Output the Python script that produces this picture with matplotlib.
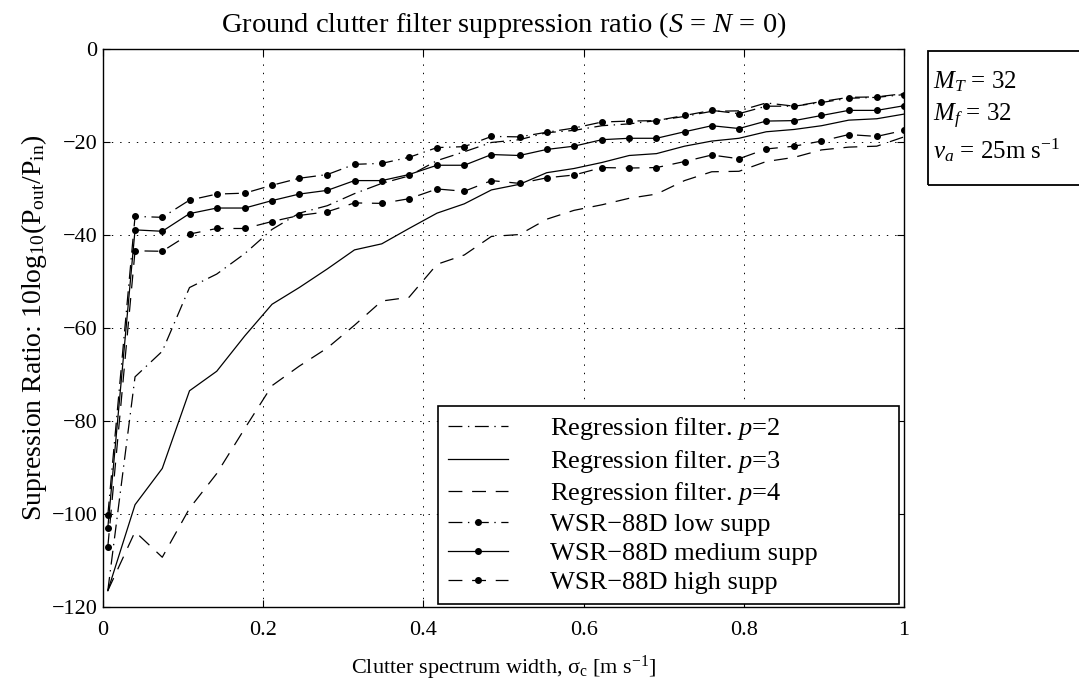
import matplotlib
matplotlib.use("Agg")
import matplotlib.pyplot as plt
from matplotlib.patches import Rectangle

plt.rcParams['font.family'] = ['Liberation Serif', 'DejaVu Serif']
plt.rcParams['mathtext.fontset'] = 'custom'
plt.rcParams['mathtext.rm'] = 'Liberation Serif'
plt.rcParams['mathtext.it'] = 'Liberation Serif:italic'
plt.rcParams['mathtext.bf'] = 'Liberation Serif:bold'
plt.rcParams['lines.scale_dashes'] = False

# clutter spectrum width [m/s]
sigma_c = [0.006, 0.040, 0.074, 0.108, 0.142, 0.177, 0.211, 0.245, 0.280, 0.314,
           0.348, 0.382, 0.417, 0.451, 0.485, 0.520, 0.554, 0.588, 0.623, 0.657,
           0.691, 0.726, 0.760, 0.794, 0.828, 0.863, 0.897, 0.931, 0.966, 1.000]

# regression filters
reg_p2 = [-116.5, -70.5, -65.0, -51.3, -48.4, -44.0, -38.8, -35.3, -33.7, -31.1,
          -28.9, -27.3, -24.0, -22.1, -20.1, -19.5, -18.0, -17.5, -16.5, -16.1,
          -15.4, -14.5, -13.4, -13.3, -11.6, -12.3, -11.3, -10.4, -10.3, -9.6]
reg_p3 = [-116.5, -98.0, -90.2, -73.5, -69.3, -61.7, -54.9, -51.3, -47.3, -43.2,
          -41.9, -38.6, -35.3, -33.3, -30.3, -29.1, -26.6, -25.7, -24.4, -22.9,
          -22.5, -20.9, -19.8, -19.2, -17.8, -17.3, -16.5, -15.3, -15.0, -14.0]
reg_p4 = [-116.5, -103.8, -109.3, -98.8, -91.3, -81.6, -72.4, -68.2, -64.3, -59.4,
          -54.2, -53.4, -46.3, -44.3, -40.3, -39.9, -36.6, -34.7, -33.5, -32.1,
          -31.2, -28.3, -26.4, -26.3, -24.2, -23.3, -21.7, -21.1, -20.9, -18.9]

# WSR-88D filters
wsr_low = [-100.3, -36.0, -36.2, -32.5, -31.2, -31.0, -29.3, -27.8, -27.0, -24.8,
           -24.6, -23.3, -21.2, -21.0, -18.8, -18.9, -17.9, -17.0, -15.7, -15.5,
           -15.4, -14.3, -13.2, -13.9, -12.3, -12.3, -11.5, -10.6, -10.4, -9.8]
wsr_med = [-103.0, -38.9, -39.2, -35.4, -34.2, -34.2, -32.6, -31.2, -30.4, -28.3,
           -28.3, -27.0, -25.0, -25.0, -22.7, -22.9, -21.6, -20.9, -19.5, -19.2,
           -19.2, -17.8, -16.5, -17.1, -15.5, -15.4, -14.3, -13.2, -13.2, -12.2]
wsr_high = [-107.1, -43.4, -43.5, -39.8, -38.6, -38.6, -37.1, -35.8, -35.0, -33.1,
            -33.2, -32.2, -30.1, -30.6, -28.3, -28.9, -27.7, -27.1, -25.5, -25.6,
            -25.5, -24.2, -22.8, -23.6, -21.5, -20.9, -19.8, -18.4, -18.8, -17.5]

labels = ['Regression filter. $p$=2', 'Regression filter. $p$=3',
          'Regression filter. $p$=4', 'WSR\u221288D low supp',
          'WSR\u221288D medium supp', 'WSR\u221288D high supp']

xticks = [0, 0.2, 0.4, 0.6, 0.8, 1]
xticklabels = ['0', '0.2', '0.4', '0.6', '0.8', '1']
yticks = [-120, -100, -80, -60, -40, -20, 0]
yticklabels = ['\u2212120', '\u2212100', '\u221280', '\u221260', '\u221240', '\u221220', '0']

params_text = ['$M_T$ = 32', '$M_f$ = 32', '$v_a$ = 25m s$^{-1}$']

dashdot = (0, (10, 4, 1, 4))
dashed = (0, (10, 7))

fig = plt.figure(figsize=(10.79, 6.89), dpi=100)
ax = fig.add_axes([103 / 1079, 82 / 689, 801 / 1079, 558 / 689])

lw = 0.9
ms = 4
ax.plot(sigma_c, reg_p2, color='k', lw=lw, linestyle=dashdot, label=labels[0])
ax.plot(sigma_c, reg_p3, color='k', lw=lw, linestyle='-', label=labels[1])
ax.plot(sigma_c, reg_p4, color='k', lw=lw, linestyle=dashed, label=labels[2])
ax.plot(sigma_c, wsr_low, color='k', lw=lw, linestyle=dashdot, marker='o', ms=ms, label=labels[3])
ax.plot(sigma_c, wsr_med, color='k', lw=lw, linestyle='-', marker='o', ms=ms, label=labels[4])
ax.plot(sigma_c, wsr_high, color='k', lw=lw, linestyle=dashed, marker='o', ms=ms, label=labels[5])

ax.set_xlim(0, 1)
ax.set_ylim(-120, 0)
ax.set_xticks(xticks)
ax.set_xticklabels(xticklabels)
ax.set_yticks(yticks)
ax.set_yticklabels(yticklabels)
ax.tick_params(direction='in', top=True, right=True, length=5, width=0.8, labelsize=16)
ax.tick_params(axis='x', pad=10)
ax.tick_params(axis='y', pad=4)
ax.grid(True, color='k', linestyle=(0, (1, 5)), linewidth=0.7)
for sp in ax.spines.values():
    sp.set_linewidth(1.0)

ax.set_title('Ground clutter filter suppression ratio ($S$ = $N$ = 0)', fontsize=20.5, pad=12)
ax.set_xlabel('Clutter spectrum width, \u03c3$_{\\mathrm{c}}$ [m s$^{-1}$]', fontsize=16, labelpad=10)
ax.set_ylabel('Supression Ratio: 10log$_{10}$(P$_{\\mathrm{out}}$/P$_{\\mathrm{in}}$)', fontsize=20, labelpad=2)

leg = ax.legend(loc='lower left', bbox_to_anchor=(0.4186, 0.006, 0.5755, 0.3),
                mode='expand', borderaxespad=0, fontsize=19, labelspacing=0.21,
                handlelength=2.3, handletextpad=1.6, borderpad=0.35,
                fancybox=False, framealpha=1)
leg.get_frame().set_edgecolor('k')
leg.get_frame().set_linewidth(1.2)

# parameter box outside the axes
fig.patches.append(Rectangle((928 / 1079, 1 - 185 / 689), 0.2, 134 / 689,
                             transform=fig.transFigure, fill=False,
                             edgecolor='k', linewidth=1.3))
for i, t in enumerate(params_text):
    fig.text(933 / 1079, 1 - (82 + 34 * i) / 689, t, fontsize=18, va='center', ha='left')

fig.savefig('out.png', dpi=100)
